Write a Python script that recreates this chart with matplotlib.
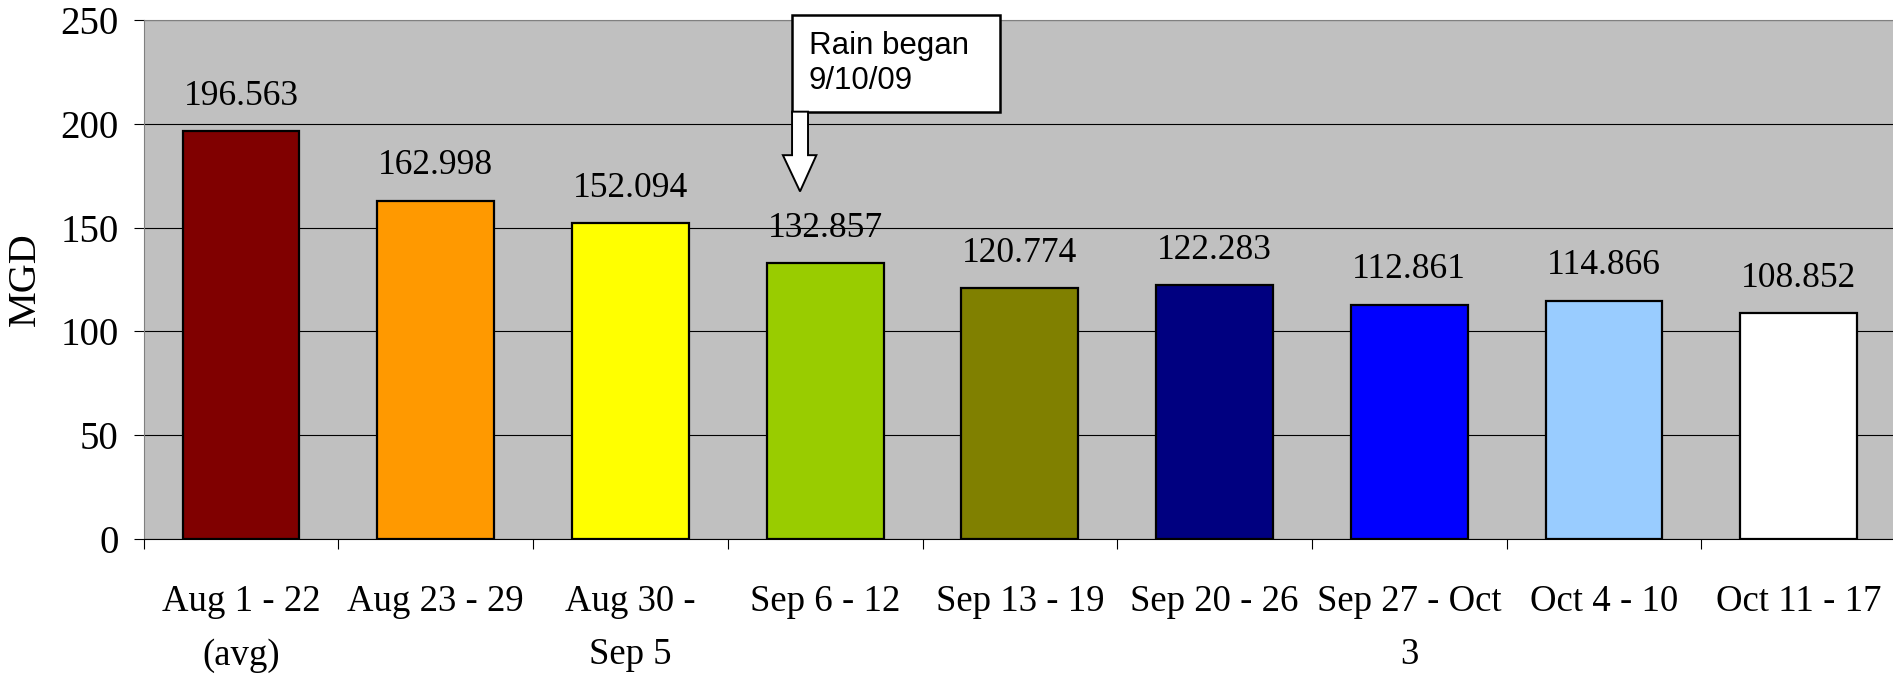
import matplotlib.pyplot as plt
from matplotlib.patches import Polygon, Rectangle

weeks = ["Aug 1 - 22\n(avg)", "Aug 23 - 29", "Aug 30 -\nSep 5", "Sep 6 - 12",
         "Sep 13 - 19", "Sep 20 - 26", "Sep 27 - Oct\n3", "Oct 4 - 10",
         "Oct 11 - 17"]
flow_mgd = [196.563, 162.998, 152.094, 132.857, 120.774, 122.283, 112.861,
            114.866, 108.852]
bar_colors = ["#800000", "#FF9900", "#FFFF00", "#99CC00", "#808000",
              "#000080", "#0000FF", "#99CCFF", "#FFFFFF"]

serif = ["Liberation Serif", "DejaVu Serif"]

fig = plt.figure(figsize=(18.93, 6.74), dpi=100)
ax = fig.add_axes([0.0759, 0.201, 0.9257, 0.7686])
ax.set_facecolor("#C0C0C0")

x = list(range(len(weeks)))
ax.bar(x, flow_mgd, width=0.6, color=bar_colors, edgecolor="black",
       linewidth=1.6, zorder=3)

for xi, v in zip(x, flow_mgd):
    ax.annotate(f"{v:.3f}", (xi, v), xytext=(0, 19), textcoords="offset points",
                ha="center", va="baseline", fontsize=25.5, family=serif)

ax.set_xlim(-0.5, len(weeks) - 0.5)
ax.set_ylim(0, 250)
ax.set_yticks([0, 50, 100, 150, 200, 250])
ax.yaxis.grid(True, color="black", linewidth=0.8, zorder=0)
ax.set_axisbelow(True)

ax.set_xticks(x)
ax.set_xticklabels(weeks, family=serif, fontsize=26.5, linespacing=1.72)
ax.set_xticks([i - 0.5 for i in range(len(weeks) + 1)], minor=True)
ax.tick_params(axis="x", which="major", length=0, pad=33)
ax.tick_params(axis="x", which="minor", length=7, width=0.8, direction="out")
ax.tick_params(axis="y", length=7, width=0.8, pad=11, labelsize=28)
for lbl in ax.get_yticklabels():
    lbl.set_family(serif)

ax.set_ylabel("MGD", family=serif, fontsize=29, labelpad=12)

ax.spines["right"].set_visible(False)
ax.spines["top"].set_color("#808080")
ax.spines["left"].set_color("#808080")
ax.spines["bottom"].set_color("black")
ax.spines["bottom"].set_linewidth(0.8)

# callout box with a block arrow pointing down at the Sep 6 - 12 week
box_x0, box_x1 = 2.83, 3.9
box_y0, box_y1 = 206, 252.6
ax.add_patch(Rectangle((box_x0, box_y0), box_x1 - box_x0, box_y1 - box_y0,
                       facecolor="white", edgecolor="black", linewidth=1.8,
                       zorder=5, clip_on=False))
ax.text(box_x0 + 0.085, (box_y0 + box_y1) / 2, "Rain began\n9/10/09",
        ha="left", va="center", fontsize=22.5, family="Liberation Sans",
        linespacing=1.2, zorder=6, clip_on=False)

sx0, sx1 = 2.83, 2.912
hx0, hx1 = 2.783, 2.955
tip_x = 2.871
arrow = Polygon([(sx0, box_y0), (sx1, box_y0), (sx1, 185), (hx1, 185),
                 (tip_x, 167.5), (hx0, 185), (sx0, 185)],
                closed=True, facecolor="white", edgecolor="black",
                linewidth=1.4, zorder=5, clip_on=False)
ax.add_patch(arrow)

fig.savefig("out.png", dpi=100)
